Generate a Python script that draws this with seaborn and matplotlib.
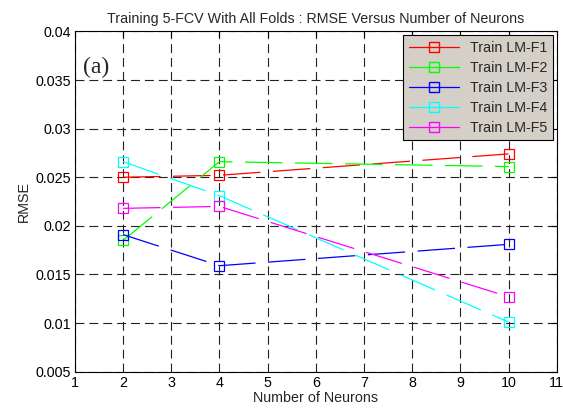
import matplotlib
matplotlib.use("Agg")
import matplotlib.pyplot as plt
from matplotlib.lines import Line2D
import seaborn as sns
import pandas as pd

neurons = [2, 4, 10]
series_names = ["Train LM-F1", "Train LM-F2", "Train LM-F3", "Train LM-F4", "Train LM-F5"]
f1 = [0.0250, 0.0252, 0.0274]
f2 = [0.0185, 0.0266, 0.0261]
f3 = [0.0191, 0.0159, 0.0181]
f4 = [0.0266, 0.0231, 0.0101]
f5 = [0.0218, 0.0220, 0.0127]
colors = ["#ff0000", "#00ff00", "#0000ff", "#00ffff", "#ff00ff"]
xticks = list(range(1, 12))
yticks = [0.005, 0.01, 0.015, 0.02, 0.025, 0.03, 0.035, 0.04]
ytick_labels = ["0.005", "0.01", "0.015", "0.02", "0.025", "0.03", "0.035", "0.04"]

values = [f1, f2, f3, f4, f5]
rows = []
for name, vals in zip(series_names, values):
    for x, v in zip(neurons, vals):
        rows.append({"Neurons": x, "RMSE": v, "Series": name})
df = pd.DataFrame(rows)

sns.set_theme(style="white")
plt.rcParams["font.family"] = ["Liberation Sans", "DejaVu Sans"]

FS = 10.3
fig = plt.figure(figsize=(5.63, 4.08), dpi=100)
ax = fig.add_axes([0.133, 0.089, 0.856, 0.834])

for name, c in zip(series_names, colors):
    sub = df[df["Series"] == name]
    sns.lineplot(data=sub, x="Neurons", y="RMSE", ax=ax, color=c, lw=0.9,
                 marker="s", markersize=7, markerfacecolor="none",
                 markeredgecolor=c, markeredgewidth=0.9,
                 linestyle=(0, (30, 10)), legend=False, zorder=3)

ax.set_xlim(1, 11)
ax.set_ylim(0.005, 0.04)
ax.set_xticks(xticks)
ax.set_xticklabels([str(t) for t in xticks])
ax.set_yticks(yticks)
ax.set_yticklabels(ytick_labels)
ax.grid(True, color="#222222", lw=0.8, linestyle=(0, (8, 4.5)), zorder=0)
ax.tick_params(direction="in", length=4, width=0.8, colors="black",
               labelsize=FS, top=True, right=True, pad=3)
for s in ax.spines.values():
    s.set_color("black")
    s.set_linewidth(0.8)

ax.set_title("Training 5-FCV With All Folds : RMSE Versus Number of Neurons",
             fontsize=FS, pad=6)
ax.set_xlabel("Number of Neurons", fontsize=FS, labelpad=1)
ax.set_ylabel("RMSE", fontsize=FS, labelpad=3)

ax.text(0.016, 0.925, "(a)", transform=ax.transAxes, fontsize=17,
        family="Liberation Serif", va="top", ha="left")

handles = [Line2D([0], [0], color=c, lw=0.9, marker="s", markersize=7,
                  markerfacecolor="none", markeredgecolor=c) for c in colors]
leg = ax.legend(handles, series_names, loc="upper right", fontsize=FS,
                frameon=True, fancybox=False, framealpha=1,
                facecolor="#d4d0c8", edgecolor="black", borderaxespad=0.25,
                handlelength=3.5, labelspacing=0.42)
leg.get_frame().set_linewidth(0.8)

fig.savefig("out.png", dpi=100)
